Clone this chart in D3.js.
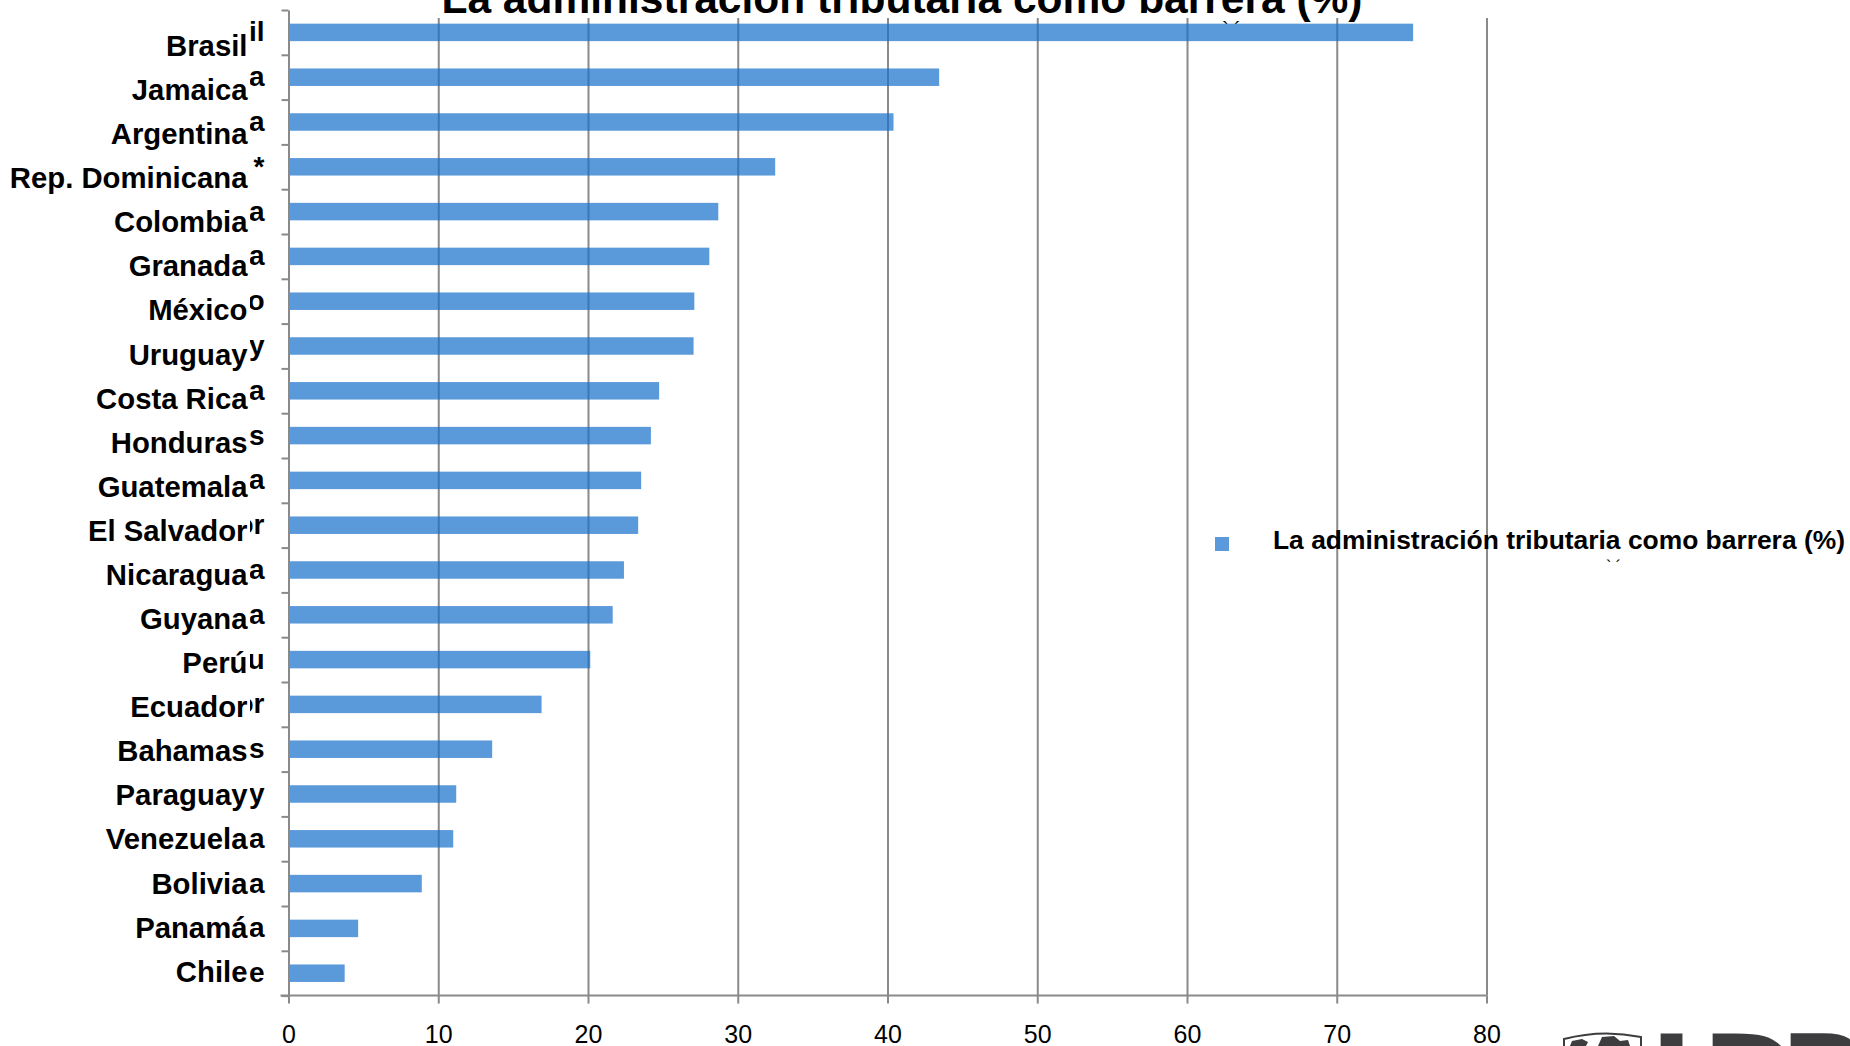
<!DOCTYPE html>
<html>
<head>
<meta charset="utf-8">
<script src="https://cdn.jsdelivr.net/npm/d3@7"></script>
<style>
body { margin: 0; background: #fff; }
svg { display: block; font-family: "Liberation Sans", Arial, sans-serif; }
</style>
</head>
<body>
<div id="chart"></div>
<script>
// data
var categories = ["Brasil", "Jamaica", "Argentina", "Rep. Dominicana", "Colombia", "Granada",
    "México", "Uruguay", "Costa Rica", "Honduras", "Guatemala", "El Salvador", "Nicaragua",
    "Guyana", "Perú", "Ecuador", "Bahamas", "Paraguay", "Venezuela", "Bolivia", "Panamá", "Chile"];
// the second (misplaced) label layer, of which only the last letter shows
var tailLabels = ["Brasil", "Jamaica", "Argentina", "Rep. Dominicana *", "Colombia", "Granada",
    "Mexico", "Uruguay", "Costa Rica", "Honduras", "Guatemala", "El Salvador", "Nicaragua",
    "Guyana", "Peru", "Ecuador", "Bahamas", "Paraguay", "Venezuela", "Bolivia", "Panama", "Chile"];
var values = [75.1, 43.45, 40.4, 32.5, 28.7, 28.1, 27.1, 27.05, 24.75, 24.2, 23.55, 23.35,
    22.4, 21.65, 20.15, 16.9, 13.6, 11.2, 11.0, 8.9, 4.65, 3.75];
var xTicks = [0, 10, 20, 30, 40, 50, 60, 70, 80];
var seriesName = "La administración tributaria como barrera (%)";
var chartTitle = "La administración tributaria como barrera (%)";

var width = 1850, height = 1046;
var plot = {left: 288.5, right: 1486.5, top: 10, bottom: 995.6, gridTop: 18};
var barColor = "rgb(22,112,203)", axisColor = "#8a8a8a";

var svg = d3.select("#chart").append("svg")
    .attr("width", width)
    .attr("height", height);

svg.append("rect").attr("width", width).attr("height", height).attr("fill", "#fff");

var x = d3.scaleLinear()
    .domain([0, 80])
    .range([plot.left, plot.right]);

var y = d3.scaleBand()
    .domain(categories)
    .range([plot.top, plot.bottom])
    .paddingInner(0.61)
    .paddingOuter(0.305);

// category boundaries, for the tick marks on the left axis
var yEdge = d3.scaleLinear()
    .domain([0, categories.length])
    .range([plot.top, plot.bottom]);

// title, cut off by the top of the page
svg.append("text")
    .attr("x", 902)
    .attr("y", 13)
    .attr("text-anchor", "middle")
    .style("font-size", "42.5px")
    .style("font-weight", "bold")
    .text(chartTitle);

// vertical gridlines
var grid = svg.append("g")
    .attr("transform", "translate(0," + plot.bottom + ")")
    .call(d3.axisBottom(x).tickValues(xTicks.slice(1)).tickSize(-(plot.bottom - plot.gridTop)).tickFormat(""));
grid.select(".domain").remove();
grid.selectAll("line").attr("stroke", axisColor).attr("stroke-width", 2);

// bars (a bit see-through, the gridlines show through them)
svg.append("g").selectAll("rect")
    .data(categories)
    .enter().append("rect")
        .attr("x", x(0))
        .attr("y", function(d) { return y(d); })
        .attr("width", function(d, i) { return x(values[i]) - x(0); })
        .attr("height", y.bandwidth())
        .attr("fill", barColor)
        .attr("fill-opacity", 0.71);

// left axis
var yAxis = svg.append("g")
    .attr("transform", "translate(" + plot.left + ",0)")
    .call(d3.axisLeft(yEdge).tickValues(d3.range(categories.length + 1)).tickSize(7).tickSizeOuter(0).tickFormat(""));
yAxis.selectAll("line,path").attr("stroke", axisColor).attr("stroke-width", 2);

// bottom axis
var xAxis = svg.append("g")
    .attr("transform", "translate(0," + plot.bottom + ")")
    .call(d3.axisBottom(x).tickValues(xTicks).tickSize(8).tickSizeOuter(0));
xAxis.select(".domain").attr("d", "M" + (plot.left - 8) + ",0H" + plot.right);
xAxis.selectAll("line,path").attr("stroke", axisColor).attr("stroke-width", 2);
xAxis.selectAll("text")
    .attr("y", 47.5)
    .attr("dy", null)
    .attr("fill", "#000")
    .style("font-size", "25px")
    .style("font-family", "'Liberation Sans', Arial, sans-serif");

// category labels: the main layer sits a little off the bars
var yLabel = d3.scaleLinear()
    .domain([0, categories.length - 1])
    .range([56, 981.7]);

svg.append("g").selectAll("text")
    .data(categories)
    .enter().append("text")
        .attr("x", 247.5)
        .attr("y", function(d, i) { return yLabel(i); })
        .attr("text-anchor", "end")
        .style("font-size", "29.3px")
        .style("font-weight", "bold")
        .text(function(d) { return d; });

// second copy of the labels, only its tail shows (the small letters after each name)
svg.append("clipPath").attr("id", "tailClip")
    .append("rect").attr("x", 250).attr("y", 0).attr("width", 20).attr("height", plot.bottom);

svg.append("g").attr("clip-path", "url(#tailClip)").selectAll("text")
    .data(categories)
    .enter().append("text")
        .attr("x", 264.5)
        .attr("y", function(d) { return y(d) + y.bandwidth() / 2 + 9; })
        .attr("text-anchor", "end")
        .style("font-size", "28px")
        .style("font-weight", "bold")
        .text(function(d, i) { return tailLabels[i]; });

// stray accent marks
svg.append("text").attr("x", 1222).attr("y", 36).style("font-size", "20px").text("` ´");
svg.append("text").attr("x", 1606).attr("y", 572).style("font-size", "16px").text("` ´");

// legend
var legend = svg.append("g").attr("transform", "translate(1215,537)");
legend.append("rect")
    .attr("width", 14).attr("height", 14)
    .attr("fill", barColor).attr("fill-opacity", 0.71);
legend.append("text")
    .attr("x", 58)
    .attr("y", 11.5)
    .style("font-size", "26.4px")
    .style("font-weight", "bold")
    .text(seriesName);

// IDB logo, only its top edge is on the page
var logo = svg.append("g").attr("fill", "#3d3c3f");
logo.append("path")
    .attr("d", "M1564,1046 L1564,1039 Q1602,1029 1641,1037 L1641,1046")
    .attr("fill", "none").attr("stroke", "#3d3c3f").attr("stroke-width", 2);
logo.append("path")
    .attr("d", "M1570,1046 L1572,1041 L1582,1039 L1588,1042 L1586,1046 Z M1598,1046 L1602,1037 L1614,1036 L1620,1041 L1628,1040 L1630,1046 Z");
logo.selectAll(".letter")
    .data([["I", 1650], ["D", 1702], ["B", 1780]])
    .enter().append("text")
        .attr("class", "letter")
        .attr("x", function(d) { return d[1]; })
        .attr("y", 1118)
        .style("font-size", "116px")
        .style("font-weight", "bold")
        .style("font-family", "'DejaVu Sans', sans-serif")
        .text(function(d) { return d[0]; });
</script>
</body>
</html>
